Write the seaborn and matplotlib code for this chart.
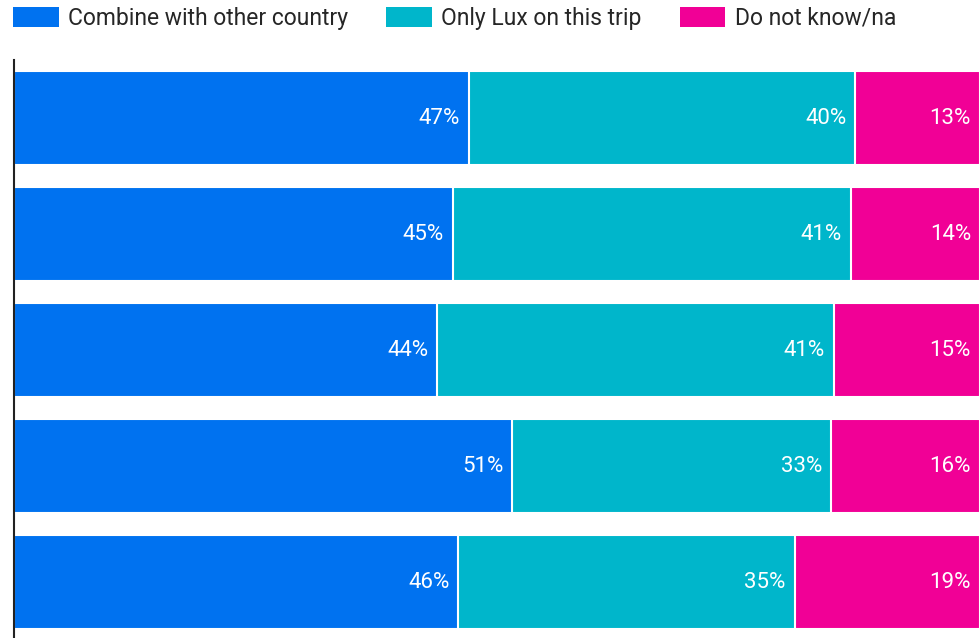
import numpy as np
import pandas as pd
import seaborn as sns
import matplotlib.pyplot as plt
from matplotlib.patches import Patch

# data (bar lengths as measured, labels as printed on the bars)
rows = ['1', '2', '3', '4', '5']
series = ['Combine with other country', 'Only Lux on this trip', 'Do not know/na']
combine = [47.1, 45.4, 43.8, 51.6, 46.0]
only_lux = [40.0, 41.2, 41.1, 33.0, 34.8]
dont_know = [12.9, 13.4, 15.1, 15.4, 19.2]
combine_lbl = ['47%', '45%', '44%', '51%', '46%']
only_lux_lbl = ['40%', '41%', '41%', '33%', '35%']
dont_know_lbl = ['13%', '14%', '15%', '16%', '19%']
colors = ['#0072f0', '#00b6cb', '#f10096']

sns.set_theme(style='white')
plt.rcParams['font.family'] = ['Roboto', 'DejaVu Sans']

df = pd.DataFrame({'row': rows, 'c1': combine, 'c2': only_lux, 'c3': dont_know})
df['cum1'] = df['c1']
df['cum2'] = df['c1'] + df['c2']
df['cum3'] = df['cum2'] + df['c3']

fig = plt.figure(figsize=(9.8, 6.38), dpi=100)
ax = fig.add_axes([14 / 980, -2 / 638, 966 / 980, 580 / 638])

# stacked by drawing cumulative totals back to front
for col, c in zip(['cum3', 'cum2', 'cum1'], colors[::-1]):
    sns.barplot(data=df, x=col, y='row', orient='h', color=c, width=0.81,
                edgecolor='white', linewidth=1.5, saturation=1, ax=ax)

for i in range(len(rows)):
    for lbl, end in zip([combine_lbl[i], only_lux_lbl[i], dont_know_lbl[i]],
                        [df['cum1'][i], df['cum2'][i], df['cum3'][i]]):
        ax.annotate(lbl, xy=(end, i), xytext=(-6.5, 0), textcoords='offset points',
                    ha='right', va='center', color='white', fontsize=16)

ax.set_xlim(0, 100)
ax.set_ylim(4.5, -0.5)
ax.set_xlabel('')
ax.set_ylabel('')
ax.set_xticks([])
ax.set_yticks([])
for s in ['top', 'right', 'bottom']:
    ax.spines[s].set_visible(False)
ax.spines['left'].set_color('#222222')
ax.spines['left'].set_linewidth(1.5)

handles = [Patch(facecolor=c, edgecolor='none') for c in colors]
fig.legend(handles, series, loc='upper left', bbox_to_anchor=(13 / 980, 1 - 7 / 638), ncol=3,
           frameon=False, fontsize=16.5, handlelength=2.0, handleheight=0.96,
           handletextpad=0.4, columnspacing=1.66, borderaxespad=0, borderpad=0)

fig.savefig('out.png', dpi=100)
